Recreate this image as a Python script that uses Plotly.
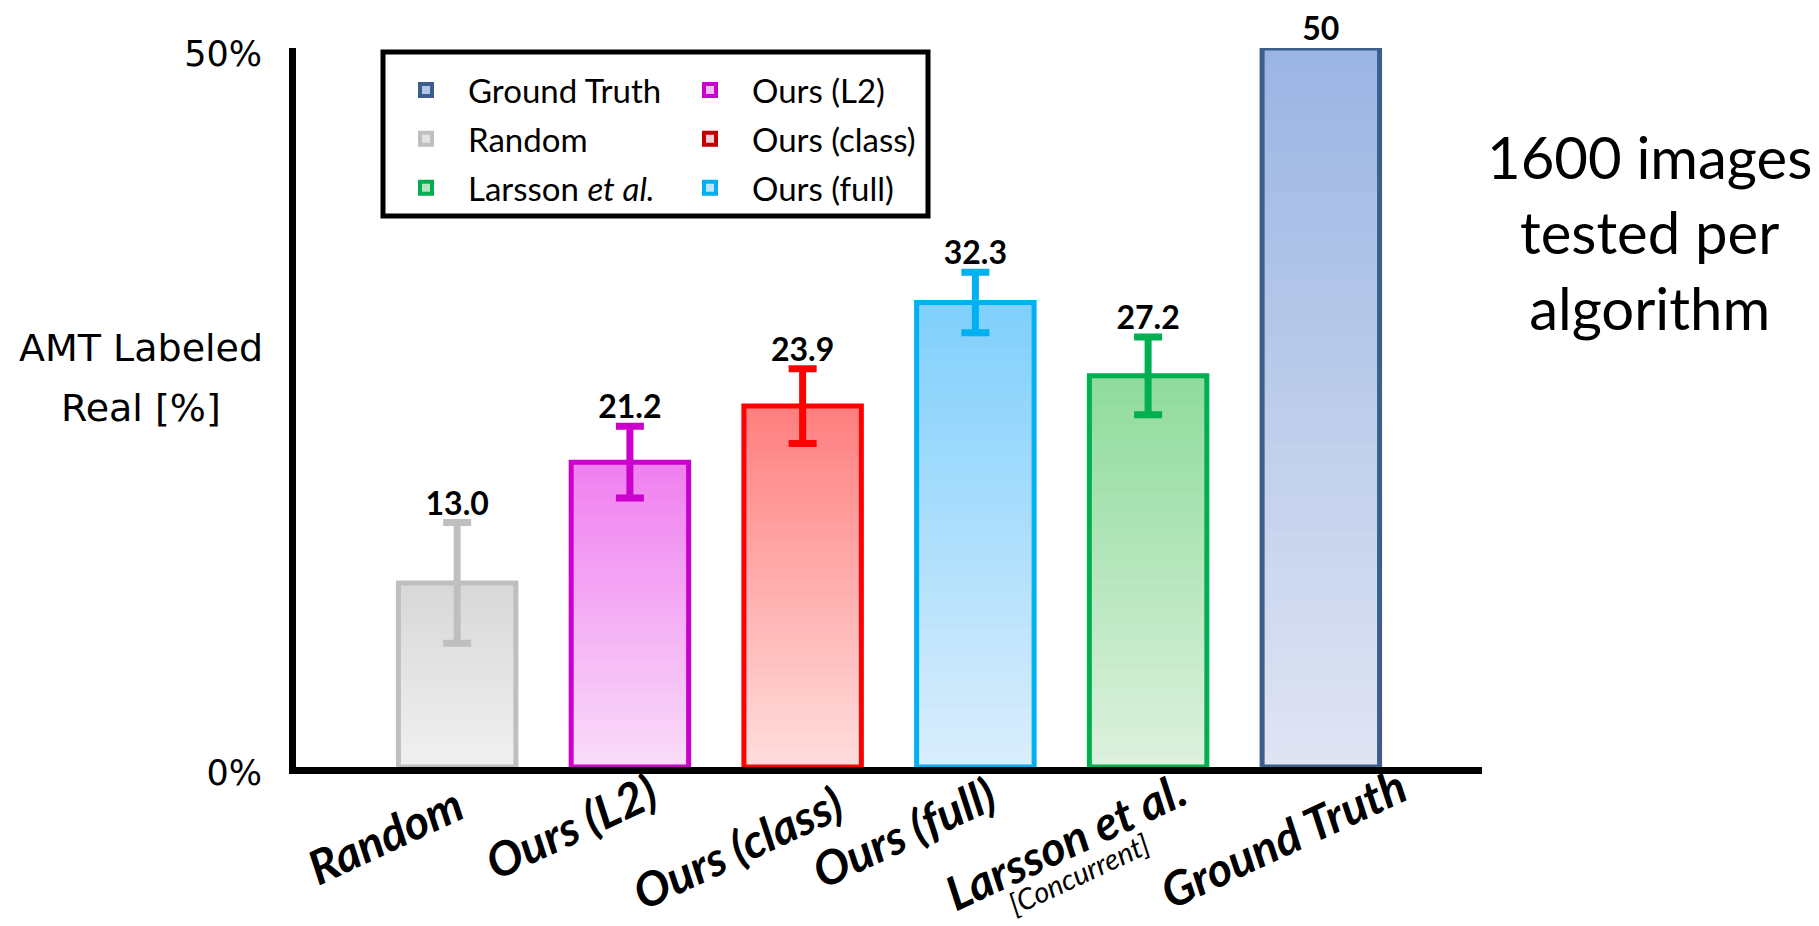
import plotly.graph_objects as go

# ---------------- data ----------------
categories = ["Random", "Ours (L2)", "Ours (class)", "Ours (full)", "Larsson et al.", "Ground Truth"]
bar_values = [12.8, 21.2, 25.1, 32.3, 27.2, 50.0]
error_values = [4.2, 2.5, 2.6, 2.1, 2.7, 0.0]
value_labels = ["13.0", "21.2", "23.9", "32.3", "27.2", "50"]
tick_labels = ["Random", "Ours (L2)", "Ours (class)", "Ours (full)", "Larsson et al.", "Ground Truth"]
tick_sublabels = ["", "", "", "", "[Concurrent]", ""]
legend_col1 = ["Ground Truth", "Random", "Larsson <i>et al.</i>"]
legend_col2 = ["Ours (L2)", "Ours (class)", "Ours (full)"]

# ---------------- style ----------------
outline_colors = ["#BFBFBF", "#CC00CC", "#FF0000", "#00B0F0", "#00B050", "#3B5E8C"]
top_colors = ["#D8D8D8", "#F080F0", "#FF8080", "#80D0FC", "#8FDB9C", "#9BB5E3"]
bottom_colors = ["#F0F0F0", "#F9DCF9", "#FFDCDC", "#DAEDFC", "#DDF1DE", "#DFE4F2"]
legend1_fill = ["#B4C6E7", "#E4E4E4", "#B6E4BE"]
legend1_line = ["#3B5E8C", "#BFBFBF", "#00B050"]
legend2_fill = ["#F5BDF5", "#EFD3D3", "#BFE5FB"]
legend2_line = ["#CC00CC", "#C00000", "#00B0F0"]
label_xshift = [-72, -59, -65, -72, -83, -38]
label_ycenter = [835, 826, 847, 832, 841, 838]
sublabel_xshift = [0, 0, 0, 0, -70, 0]
sublabel_ycenter = [0, 0, 0, 0, 873, 0]

W, H = 1819, 926
ML, MR, MT, MB = 296, 337, 48, 159
PW, PH = W - ML - MR, H - MT - MB
AXIS_Y = H - MB
BAR_W = 0.68
N_STEPS = 40


def hex2rgb(h):
    h = h.lstrip("#")
    return tuple(int(h[i:i + 2], 16) for i in (0, 2, 4))


def mix(c1, c2, t):
    a, b = hex2rgb(c1), hex2rgb(c2)
    return "rgb(%d,%d,%d)" % tuple(round(a[i] + (b[i] - a[i]) * t) for i in range(3))


def px_x(px):
    return (px - ML) / PW


def px_y(py):
    return (AXIS_Y - py) / PH


fig = go.Figure()

# gradient fill: overlaid bars, each shorter one covering the lower part
for k in range(N_STEPS):
    t = k / (N_STEPS - 1)
    frac = (N_STEPS - k) / N_STEPS
    fig.add_trace(go.Bar(
        x=categories, y=[v * frac for v in bar_values],
        marker=dict(color=[mix(top_colors[i], bottom_colors[i], t) for i in range(len(categories))],
                    line=dict(width=0)),
        width=BAR_W, showlegend=False, hoverinfo="skip"))

# outlines + error bars
for i, c in enumerate(categories):
    fig.add_trace(go.Bar(
        x=[c], y=[bar_values[i]], width=BAR_W,
        marker=dict(color="rgba(0,0,0,0)", line=dict(color=outline_colors[i], width=5)),
        error_y=dict(type="data", array=[error_values[i]], visible=error_values[i] > 0,
                     color=outline_colors[i], thickness=7, width=14),
        showlegend=False, cliponaxis=False, hoverinfo="skip"))

# value labels
fig.add_trace(go.Scatter(
    x=categories, y=[v + e for v, e in zip(bar_values, error_values)],
    text=value_labels, mode="text", textposition="top center",
    textfont=dict(family="Lato", size=32, color="black", weight="bold"),
    cliponaxis=False, showlegend=False, hoverinfo="skip"))

# legend entries
for name, f, l in zip(legend_col1, legend1_fill, legend1_line):
    fig.add_trace(go.Bar(x=[None], y=[None], name=name, legend="legend", legendgroup=name,
                         marker=dict(color=f, line=dict(color=l, width=4))))
for name, f, l in zip(legend_col2, legend2_fill, legend2_line):
    fig.add_trace(go.Bar(x=[None], y=[None], name=name, legend="legend2", legendgroup=name,
                         marker=dict(color=f, line=dict(color=l, width=4))))

annotations = []
# rotated category labels
for i, c in enumerate(categories):
    annotations.append(dict(
        x=c, y=0, xref="x", yref="y", text=tick_labels[i], showarrow=False,
        xanchor="center", yanchor="middle", textangle=-25, align="center",
        xshift=label_xshift[i], yshift=-(label_ycenter[i] - AXIS_Y),
        font=dict(family="Lato", size=47, color="black", weight="bold", style="italic")))
    if tick_sublabels[i]:
        annotations.append(dict(
            x=c, y=0, xref="x", yref="y", text=tick_sublabels[i], showarrow=False,
            xanchor="center", yanchor="middle", textangle=-25, align="center",
            xshift=sublabel_xshift[i], yshift=-(sublabel_ycenter[i] - AXIS_Y),
            font=dict(family="Lato", size=29, color="black", style="italic")))

# y-axis title (horizontal, two lines)
annotations.append(dict(x=px_x(141), y=px_y(348), xref="paper", yref="paper", text="AMT Labeled",
                        showarrow=False, xanchor="center", yanchor="middle",
                        font=dict(family="DejaVu Sans", size=38, color="black")))
annotations.append(dict(x=px_x(141), y=px_y(408), xref="paper", yref="paper", text="Real [%]",
                        showarrow=False, xanchor="center", yanchor="middle",
                        font=dict(family="DejaVu Sans", size=38, color="black")))
# side note
annotations.append(dict(x=px_x(1649), y=px_y(232), xref="paper", yref="paper",
                        text="1600 images<br>tested per<br>algorithm", showarrow=False,
                        xanchor="center", yanchor="middle", align="center",
                        font=dict(family="Lato", size=58, color="black")))

legend_common = dict(xanchor="left", yanchor="top", bgcolor="rgba(0,0,0,0)", borderwidth=0,
                     font=dict(family="Lato", size=33, color="black"), itemwidth=74,
                     tracegroupgap=3, traceorder="grouped", itemclick=False, itemdoubleclick=False)

fig.update_layout(
    width=W, height=H, autosize=False,
    margin=dict(l=ML, r=MR, t=MT, b=MB, pad=0, autoexpand=False),
    paper_bgcolor="white", plot_bgcolor="white",
    barmode="overlay", bargap=0,
    showlegend=True,
    legend=dict(x=px_x(384), y=px_y(62), **legend_common),
    legend2=dict(x=px_x(668), y=px_y(62), **legend_common),
    xaxis=dict(type="category", range=[-0.933, 5.933], showline=True, linecolor="black",
               linewidth=7, showticklabels=False, ticks="", showgrid=False, zeroline=False,
               fixedrange=True),
    yaxis=dict(range=[0, 50], tickvals=[0, 50], ticktext=["0%", "50%"], showline=True,
               linecolor="black", linewidth=7, ticks="", showgrid=False, zeroline=False,
               ticklabelstandoff=20, ticklabelshift=6,
               tickfont=dict(family="DejaVu Sans", size=35, color="black"), fixedrange=True),
    shapes=[dict(type="rect", xref="paper", yref="paper",
                 x0=px_x(383), x1=px_x(928), y0=px_y(216), y1=px_y(52),
                 line=dict(color="black", width=5), fillcolor="white", layer="below")],
    annotations=annotations,
)

fig.write_html("out.html", include_plotlyjs=True,
               config={"displayModeBar": False, "staticPlot": True},
               post_script="document.body.style.margin='0';document.body.style.overflow='hidden';")
